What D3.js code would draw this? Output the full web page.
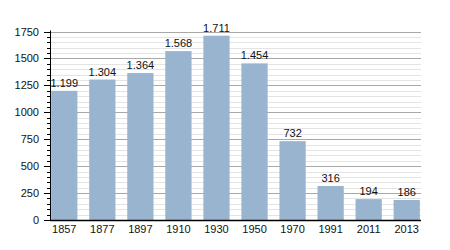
<!DOCTYPE html>
<meta charset='utf-8'>
<body style='margin:0;background:#fff'>
<script src='https://d3js.org/d3.v7.min.js'></script>
<script>

var years = ['1857', '1877', '1897', '1910', '1930', '1950', '1970', '1991', '2011', '2013'];
var population = [1199, 1304, 1364, 1568, 1711, 1454, 732, 316, 194, 186];
var valueLabels = ['1.199', '1.304', '1.364', '1.568', '1.711', '1.454', '732', '316', '194', '186'];
var yTicks = [0, 250, 500, 750, 1000, 1250, 1500, 1750];

var width = 450, height = 250;
var plotLeft = 50, plotRight = 421, plotTop = 31.5, plotBottom = 220;

var svg = d3.select('body').append('svg')
    .attr('width', width)
    .attr('height', height)
    .style('font-family', 'Liberation Sans, Arial, sans-serif');

var x = d3.scaleBand().domain(years).range([plotLeft, plotRight]).paddingInner(0.31).paddingOuter(0.03);
var y = d3.scaleLinear().domain([0, 1750]).range([plotBottom, plotTop]);

function py(d){ return Math.round(y(d)) + 0.5; }

// minor grid every 50
var minor = d3.range(50, 1751, 50).filter(function(v){ return v % 250 !== 0; });
svg.append('g').selectAll('line').data(minor).enter().append('line')
    .attr('x1', plotLeft).attr('x2', plotRight)
    .attr('y1', py).attr('y2', py)
    .attr('stroke', '#e4e4e4').attr('stroke-width', 1);

svg.append('g').selectAll('line').data(yTicks.slice(1)).enter().append('line')
    .attr('x1', plotLeft).attr('x2', plotRight)
    .attr('y1', py).attr('y2', py)
    .attr('stroke', '#a8a8a8').attr('stroke-width', 1);

svg.append('g').selectAll('rect').data(population).enter().append('rect')
    .attr('x', function(d, i){ return x(years[i]); })
    .attr('width', x.bandwidth())
    .attr('y', function(d){ return y(d); })
    .attr('height', function(d){ return plotBottom - y(d); })
    .attr('fill', '#99b4cf');

svg.append('g').selectAll('text').data(population).enter().append('text')
    .attr('x', function(d, i){ return x(years[i]) + x.bandwidth() / 2; })
    .attr('y', function(d){ return y(d) - 4; })
    .attr('text-anchor', 'middle')
    .attr('font-size', 11)
    .attr('fill', '#111')
    .text(function(d, i){ return valueLabels[i]; });

// y axis with minor ticks
var yAxis = svg.append('g').attr('transform', 'translate(' + plotLeft + ',0)');
yAxis.append('line').attr('x1', 0.5).attr('x2', 0.5).attr('y1', plotTop - 1).attr('y2', plotBottom)
    .attr('stroke', '#000');
yAxis.selectAll('.minor').data(minor).enter().append('line')
    .attr('x1', -3).attr('x2', 0)
    .attr('y1', py).attr('y2', py)
    .attr('stroke', '#000');
yAxis.selectAll('.major').data(yTicks).enter().append('line')
    .attr('x1', -6).attr('x2', 0)
    .attr('y1', py).attr('y2', py)
    .attr('stroke', '#000');
yAxis.selectAll('text').data(yTicks).enter().append('text')
    .attr('x', -11)
    .attr('y', function(d){ return y(d) + 4; })
    .attr('text-anchor', 'end')
    .attr('font-size', 11)
    .attr('fill', '#111')
    .text(function(d){ return d; });

// x axis
svg.append('line').attr('x1', plotLeft).attr('x2', plotRight)
    .attr('y1', plotBottom + 0.5).attr('y2', plotBottom + 0.5)
    .attr('stroke', '#000').attr('stroke-width', 1.5);
svg.append('g').selectAll('text').data(years).enter().append('text')
    .attr('x', function(d){ return x(d) + x.bandwidth() / 2; })
    .attr('y', plotBottom + 12.5)
    .attr('text-anchor', 'middle')
    .attr('font-size', 11)
    .attr('fill', '#111')
    .text(function(d){ return d; });

</script>
</body>
